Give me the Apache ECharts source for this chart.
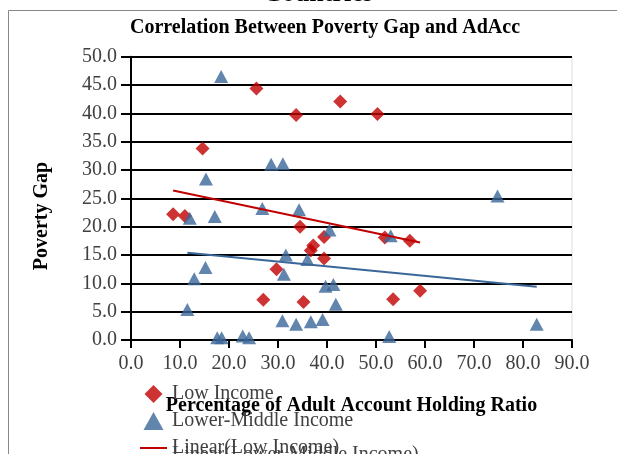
<!DOCTYPE html>
<html>
<head>
<meta charset="utf-8">
<script src="https://cdn.jsdelivr.net/npm/echarts@6/dist/echarts.min.js"></script>
<style>
  html, body { margin: 0; padding: 0; background: #fff; }
  #main { width: 617px; height: 454px; }
</style>
</head>
<body>
<div id="main"></div>
<script>
// 低收入国家（红色菱形）
var lowX = [25.6, 33.7, 42.7, 14.6, 50.3, 8.6, 11.0, 34.5, 39.4, 37.2, 36.7, 39.4, 29.7, 27.0, 35.2, 51.8, 56.9, 53.5, 59.0];
var lowY = [44.4, 39.7, 42.1, 33.8, 39.9, 22.2, 21.9, 20.0, 18.2, 16.7, 15.8, 14.4, 12.5, 7.1, 6.7, 18.1, 17.5, 7.2, 8.7];
// 中低收入国家（蓝色三角）
var lmX = [18.4, 15.3, 28.6, 31.0, 74.8, 12.0, 17.1, 26.8, 34.3, 40.5, 31.6, 36.0, 15.2, 31.2, 12.9, 39.7, 41.3, 41.8, 11.5, 30.9, 33.7, 36.7, 39.1, 17.6, 18.5, 22.8, 24.1, 53.0, 52.7, 82.8];
var lmY = [46.5, 28.4, 31.0, 31.1, 25.4, 21.5, 21.8, 23.2, 23.0, 19.4, 15.0, 14.2, 12.8, 11.6, 10.8, 9.5, 9.8, 6.3, 5.4, 3.4, 2.8, 3.2, 3.6, 0.4, 0.4, 0.7, 0.4, 18.4, 0.6, 2.8];
// 趋势线端点
var lowTrendX = [8.6, 59.0];
var lowTrendY = [26.4, 17.2];
var lmTrendX = [11.5, 82.8];
var lmTrendY = [15.4, 9.4];
var seriesNames = ['Low Income', 'Lower-Middle Income', 'Linear(Low Income)', 'Linear(Lower-Middle Income)'];

function pairs(xs, ys) {
    var out = [];
    for (var i = 0; i < xs.length; i++) out.push([xs[i], ys[i]]);
    return out;
}

var serif = 'Liberation Serif';
var red = '#C00000', blue = '#3A6699';
// 图例图标
var iconDiamond = 'path://M1,0 L2,1 L1,2 L0,1 Z';
var iconTriangle = 'path://M1,0 L2,1.8 L0,1.8 Z';
var iconLine = 'path://M0,0 L27,0 L27,2 L0,2 Z';
var legendText = { fontFamily: serif, fontSize: 20, color: '#404040' };

var chart = echarts.init(document.getElementById('main'));
chart.setOption({
    animation: false,
    title: {
        text: 'Correlation Between Poverty Gap and AdAcc',
        left: 320, top: 13, textAlign: 'center',
        textStyle: { fontFamily: serif, fontSize: 20, fontWeight: 'bold', color: '#000' }
    },
    graphic: [
        { type: 'rect', shape: { x: 8.5, y: 10.5, width: 700, height: 500 }, style: { fill: 'none', stroke: '#888', lineWidth: 1 } },
        { type: 'text', x: 318, y: 7, style: { text: 'Countries', font: 'bold 26px "Liberation Serif"', fill: '#000', textAlign: 'center', textVerticalAlign: 'bottom' } },
        { type: 'text', x: 42, y: 216, rotation: Math.PI / 2, style: { text: 'Poverty Gap', font: 'bold 20px "Liberation Serif"', fill: '#000', textAlign: 'center', textVerticalAlign: 'middle' } }
    ],
    grid: { left: 131, right: 45, top: 56.7, bottom: 114, show: true, borderColor: '#ddd', borderWidth: 1 },
    legend: [{
        orient: 'vertical', left: 135, top: 379, height: 120, itemWidth: 27, itemHeight: 18, itemGap: 7,
        symbolKeepAspect: true,
        data: [
            { name: seriesNames[0], icon: iconDiamond },
            { name: seriesNames[1], icon: iconTriangle },
            { name: seriesNames[2], icon: iconLine }
        ],
        textStyle: legendText
    }, {
        orient: 'vertical', left: 135, top: 440, height: 60, itemWidth: 27, itemHeight: 18,
        symbolKeepAspect: true,
        data: [{ name: seriesNames[3], icon: iconLine }],
        textStyle: legendText
    }],
    xAxis: {
        type: 'value', min: 0, max: 90, interval: 10,
        name: 'Percentage of Adult Account Holding Ratio', nameLocation: 'middle', nameGap: 56,
        nameTextStyle: { fontFamily: serif, fontSize: 20, fontWeight: 'bold', color: '#000' },
        axisLine: { lineStyle: { color: '#000', width: 2 } },
        axisTick: { length: 8, lineStyle: { color: '#000', width: 2 } },
        axisLabel: { margin: 14, fontFamily: serif, fontSize: 20, color: '#404040', formatter: function (v) { return v.toFixed(1); } },
        splitLine: { show: false }
    },
    yAxis: {
        type: 'value', min: 0, max: 50, interval: 5,
        axisLine: { show: true, lineStyle: { color: '#000', width: 2 } },
        axisTick: { show: true, length: 10, lineStyle: { color: '#000', width: 2 } },
        axisLabel: { margin: 14, fontFamily: serif, fontSize: 20, color: '#404040', formatter: function (v) { return v.toFixed(1); } },
        splitLine: { show: true, lineStyle: { color: '#000', width: 2 } }
    },
    series: [
        { name: seriesNames[0], type: 'scatter', symbol: 'diamond', symbolSize: 14, itemStyle: { color: red }, data: pairs(lowX, lowY), z: 3 },
        { name: seriesNames[1], type: 'scatter', symbol: 'triangle', symbolSize: [14, 13], itemStyle: { color: blue }, data: pairs(lmX, lmY), z: 3 },
        { name: seriesNames[2], type: 'line', symbol: 'none', lineStyle: { color: red, width: 2 }, itemStyle: { color: red }, data: pairs(lowTrendX, lowTrendY), z: 4 },
        { name: seriesNames[3], type: 'line', symbol: 'none', lineStyle: { color: blue, width: 2 }, itemStyle: { color: blue }, data: pairs(lmTrendX, lmTrendY), z: 4 }
    ]
});
</script>
</body>
</html>
